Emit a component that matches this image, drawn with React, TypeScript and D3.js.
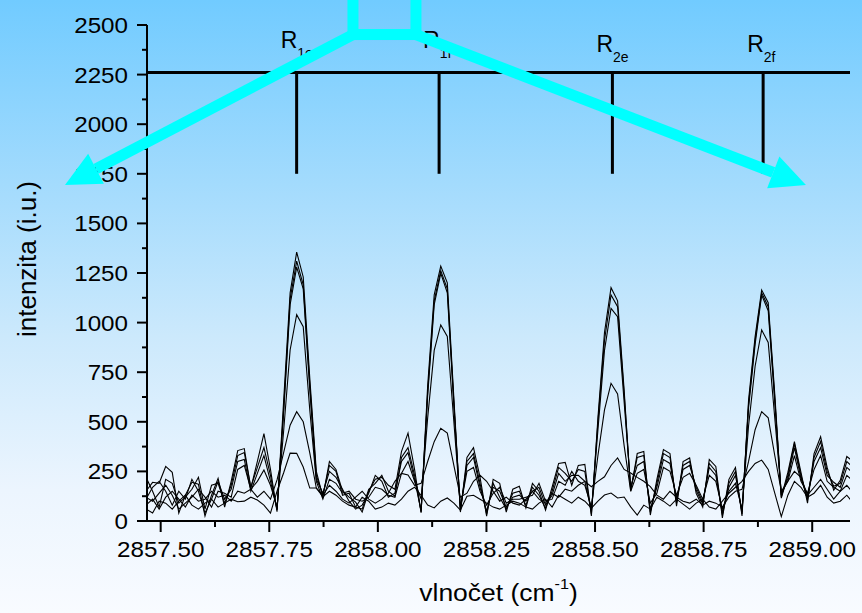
import React from 'react';
import * as d3 from 'd3';

const WIDTH = 862;
const HEIGHT = 613;

// sampling grid of the spectra (cm^-1)
const WAVENUMBER_START = 2857.4663;
const WAVENUMBER_STEP = 0.015078;

const series1 = [150,195,190,275,245,40,130,195,185,25,130,215,70,200,355,365,166,300,440,260,47,600,1150,1355,1230,720,250,122,300,260,150,120,95,45,150,210,220,180,160,350,443,260,42,680,1140,1285,1200,620,45,320,370,220,25,210,190,45,160,175,66,190,150,55,170,290,295,180,280,285,25,520,950,1176,1110,660,150,340,350,30,210,360,340,75,300,318,140,70,310,275,15,210,270,25,610,930,1164,1100,640,120,245,400,245,90,340,425,270,155,205,325,300];
const series2 = [220,150,70,210,190,90,120,160,220,60,180,190,90,180,330,345,170,270,370,230,55,560,1120,1310,1190,690,230,130,280,250,130,140,70,60,160,190,230,150,125,320,370,230,45,650,1110,1262,1170,600,50,300,340,190,35,190,120,60,140,150,80,170,130,65,150,270,240,200,260,250,35,500,910,1139,1080,640,160,320,330,45,190,340,320,90,280,300,155,85,290,250,30,190,250,35,590,910,1150,1080,620,115,230,390,230,105,320,400,250,175,190,300,270];
const series3 = [110,170,200,150,80,150,110,210,150,40,110,200,110,160,300,310,150,240,330,200,60,540,1090,1280,1170,660,210,140,250,220,160,100,60,80,140,230,200,120,140,300,345,210,50,630,1090,1248,1150,580,60,280,320,170,50,170,150,70,120,130,100,150,170,80,130,240,200,230,230,200,50,460,860,1072,1030,600,170,280,300,60,170,310,290,110,260,280,170,95,270,230,40,170,230,45,570,890,1139,1060,600,130,215,370,215,120,300,370,230,195,170,270,240];
const series4 = [120,100,140,180,130,60,90,120,160,120,70,150,140,120,260,280,160,200,257,180,70,450,862,1040,979,560,200,110,210,190,140,150,110,100,120,170,160,130,120,240,300,200,110,520,860,988,930,500,70,250,270,150,80,140,170,90,110,110,120,130,190,100,110,200,180,250,200,180,70,330,560,694,640,380,150,240,260,90,140,270,250,130,220,240,180,110,230,200,60,150,190,60,480,780,963,900,520,140,200,330,200,140,260,330,200,170,150,230,200];
const series5 = [80,110,60,120,150,110,70,130,100,110,150,120,130,100,150,140,160,120,150,110,207,343,483,551,500,343,166,130,180,150,110,90,120,150,110,90,110,140,200,240,232,180,190,300,400,467,443,280,120,140,200,230,200,150,100,120,90,80,110,150,110,90,140,120,160,150,180,200,173,200,223,280,318,260,242,220,200,173,130,110,150,120,100,90,110,80,100,90,70,120,150,160,300,460,551,520,330,150,200,250,220,130,170,210,160,110,150,180,140];
const series6 = [60,40,100,90,60,100,130,80,60,90,110,70,90,110,97,100,120,106,80,40,150,242,342,341,272,166,166,122,150,130,100,80,70,120,100,60,70,90,80,110,150,170,130,80,66,100,116,90,55,125,130,110,90,70,60,80,100,90,70,60,90,110,70,130,110,90,120,100,65,100,131,141,116,121,71,30,80,60,120,100,75,110,85,60,90,110,70,60,100,140,170,200,250,290,307,260,140,22,130,200,170,120,140,180,120,90,100,130,90];

const SERIES = [series1, series2, series3, series4, series5, series6];

const X_DOMAIN = [2857.4685, 2859.087];
const Y_DOMAIN = [0, 2500];
const X_TICKS = [2857.5, 2857.75, 2858.0, 2858.25, 2858.5, 2858.75, 2859.0];
const X_MINOR = [2857.625, 2857.875, 2858.125, 2858.375, 2858.625, 2858.875];
const Y_TICKS = [0, 250, 500, 750, 1000, 1250, 1500, 1750, 2000, 2250, 2500];
const Y_MINOR = [125, 375, 625, 875, 1125, 1375, 1625, 1875, 2125, 2375];

// line assignments
const ASSIGN_POS = [2857.813, 2858.141, 2858.54, 2858.887];
const ASSIGN_SUB = ['1e', '1f', '2e', '2f'];
const ASSIGN_LEVEL = 2260;
const ASSIGN_BOTTOM = 1750;

// cyan annotation (data coordinates)
const BOX_X = [2857.9427, 2858.0877];
const BOX_Y = [2452, 2772];
const ARROW_TIPS = [
  [2857.2797, 1693.5],
  [2858.9855, 1693.5],
];

const FONT = 'Liberation Sans, Arial, Helvetica, sans-serif';
const CYAN = '#00FFFF';

export default function App() {
  const x = d3.scaleLinear().domain(X_DOMAIN).range([147, 850]);
  const y = d3.scaleLinear().domain(Y_DOMAIN).range([521, 25]);

  const line = d3
    .line<number>()
    .x((_, i) => x(WAVENUMBER_START + i * WAVENUMBER_STEP))
    .y((d) => y(d));

  const x0 = x.range()[0];
  const x1 = x.range()[1];
  const y0 = y.range()[0];
  const yTop = y.range()[1];

  const arrowHead = (sx: number, sy: number, tx: number, ty: number) => {
    const dx = tx - sx;
    const dy = ty - sy;
    const len = Math.hypot(dx, dy);
    const ux = dx / len;
    const uy = dy / len;
    const L = 35;
    const W = 17;
    const bx = tx - L * ux;
    const by = ty - L * uy;
    const nx = -uy;
    const ny = ux;
    return {
      bx,
      by,
      points: `${tx},${ty} ${bx + W * nx},${by + W * ny} ${bx - W * nx},${by - W * ny}`,
    };
  };

  const boxL = x(BOX_X[0]);
  const boxR = x(BOX_X[1]);
  const boxB = y(BOX_Y[0]);
  const boxT = y(BOX_Y[1]);
  const starts = [
    [boxL, boxB],
    [boxR, boxB],
  ];

  return (
    <svg
      width={WIDTH}
      height={HEIGHT}
      style={{ position: 'absolute', left: 0, top: 0, display: 'block' }}
      fontFamily={FONT}
    >
      <defs>
        <linearGradient id="bg" x1="0" y1="0" x2="0" y2="1">
          <stop offset="0" stopColor="#71cbff" />
          <stop offset="0.3" stopColor="#a3dbfd" />
          <stop offset="0.55" stopColor="#cce9fc" />
          <stop offset="0.8" stopColor="#ecf5fe" />
          <stop offset="1" stopColor="#f8fbff" />
        </linearGradient>
        <clipPath id="plotclip">
          <rect x={x0} y={yTop - 40} width={x1 - x0} height={y0 - yTop + 40} />
        </clipPath>
      </defs>
      <rect x={0} y={0} width={WIDTH} height={HEIGHT} fill="url(#bg)" />

      {/* spectra */}
      <g clipPath="url(#plotclip)">
        {SERIES.map((s, k) => (
          <path key={k} d={line(s) || ''} fill="none" stroke="#000" strokeWidth={1.1} strokeLinejoin="miter" />
        ))}
      </g>

      {/* axes */}
      <g stroke="#000" strokeWidth={2}>
        <line x1={x0} x2={x0} y1={y0 + 1} y2={yTop} />
        <line x1={x0 - 1} x2={x1} y1={y0} y2={y0} />
        {Y_TICKS.map((t) => (
          <line key={'yt' + t} x1={x0 - 10} x2={x0} y1={y(t)} y2={y(t)} />
        ))}
        {Y_MINOR.map((t) => (
          <line key={'ym' + t} x1={x0 - 5} x2={x0} y1={y(t)} y2={y(t)} />
        ))}
        {X_TICKS.map((t) => (
          <line key={'xt' + t} x1={x(t)} x2={x(t)} y1={y0} y2={y0 + 11} />
        ))}
        {X_MINOR.map((t) => (
          <line key={'xm' + t} x1={x(t)} x2={x(t)} y1={y0} y2={y0 + 6} />
        ))}
      </g>
      <g fontSize={22} fill="#000">
        {Y_TICKS.map((t) => (
          <text key={'yl' + t} transform={`translate(${x0 - 19},${y(t) + 8}) scale(1.1,1)`} textAnchor="end">
            {t}
          </text>
        ))}
        {X_TICKS.map((t) => (
          <text key={'xl' + t} transform={`translate(${x(t)},${y0 + 36}) scale(1.1,1)`} textAnchor="middle">
            {t.toFixed(2)}
          </text>
        ))}
      </g>
      <text transform={`translate(${(x0 + x1) / 2},601) scale(1.08,1)`} textAnchor="middle" fontSize={24.5}>
        vlnočet (cm
        <tspan fontSize={15} dy={-12}>-1</tspan>
        <tspan dy={12}>)</tspan>
      </text>
      <text transform={`translate(36,259) rotate(-90)`} textAnchor="middle" fontSize={26}>
        intenzita (i.u.)
      </text>

      {/* assignments */}
      <g stroke="#000" strokeWidth={3}>
        <line x1={x0} x2={x1} y1={y(ASSIGN_LEVEL)} y2={y(ASSIGN_LEVEL)} />
        {ASSIGN_POS.map((p) => (
          <line key={'as' + p} x1={x(p)} x2={x(p)} y1={y(ASSIGN_LEVEL)} y2={y(ASSIGN_BOTTOM)} />
        ))}
      </g>
      {ASSIGN_POS.map((p, i) => (
        <text key={'al' + p} x={x(p) - 16} y={i < 2 ? 47.5 : 52} fontSize={23}>
          R
          <tspan fontSize={14} dy={10}>
            {ASSIGN_SUB[i]}
          </tspan>
        </text>
      ))}

      {/* cyan annotation */}
      <rect x={boxL} y={boxT} width={boxR - boxL} height={boxB - boxT} fill="none" stroke={CYAN} strokeWidth={11} />
      {ARROW_TIPS.map(([tx, ty], i) => {
        const sx = starts[i][0];
        const sy = starts[i][1];
        const h = arrowHead(sx, sy, x(tx), y(ty));
        return (
          <g key={'ar' + i}>
            <line x1={sx} y1={sy} x2={h.bx} y2={h.by} stroke={CYAN} strokeWidth={11} />
            <polygon points={h.points} fill={CYAN} />
          </g>
        );
      })}
    </svg>
  );
}
